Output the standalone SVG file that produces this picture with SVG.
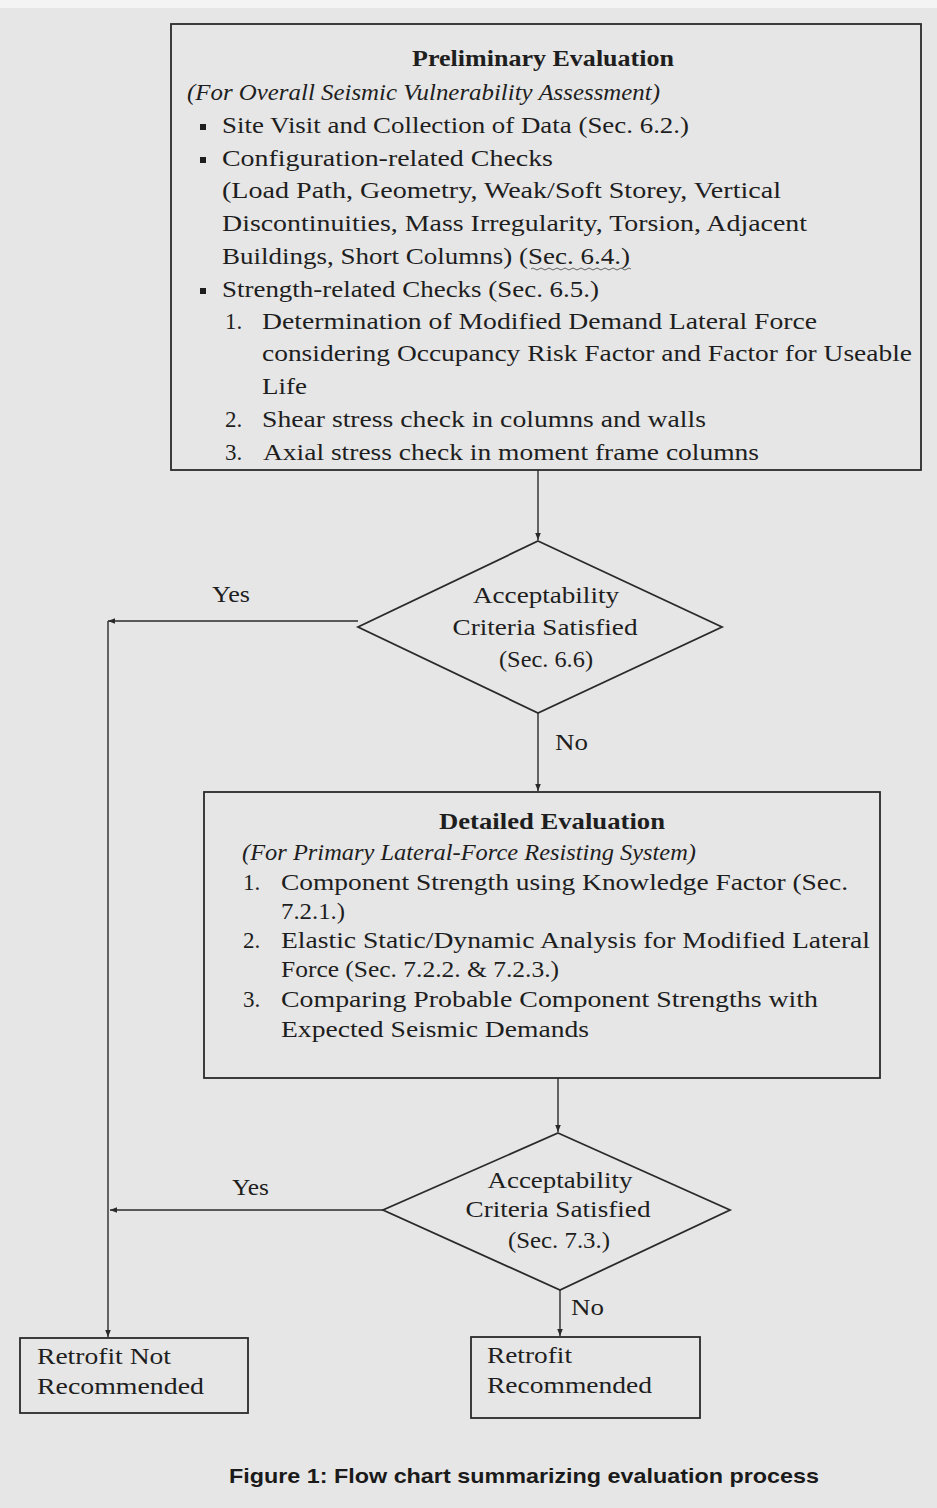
<svg xmlns="http://www.w3.org/2000/svg" width="937" height="1508" viewBox="0 0 937 1508">
<style>
.t{font-family:"Liberation Serif","Times New Roman",serif;font-size:23px;fill:#1e1e1e}
.b{font-weight:bold}
.i{font-style:italic}
.box{fill:none;stroke:#2a2a2a;stroke-width:1.8}
.con{fill:none;stroke:#2a2a2a;stroke-width:1.4}
.cap{font-family:"Liberation Sans",Arial,sans-serif;font-size:21px;font-weight:bold;fill:#1a1a1a}
</style>
<defs>
<marker id="ah" viewBox="0 0 10 10" refX="10" refY="5" markerWidth="7" markerHeight="7" markerUnits="userSpaceOnUse" orient="auto">
<path d="M0,1 L10,5 L0,9 z" fill="#2a2a2a"/>
</marker>
</defs>
<rect x="0" y="0" width="937" height="1508" fill="#e6e6e6"/>
<rect x="0" y="0" width="937" height="8" fill="#f4f4f4"/>

<g id="preliminary">
<rect class="box" x="171" y="24" width="750" height="446"/>
<text class="t b" x="543" y="66" text-anchor="middle" textLength="262" lengthAdjust="spacingAndGlyphs">Preliminary Evaluation</text>
<text class="t i" x="187" y="100" textLength="473" lengthAdjust="spacingAndGlyphs">(For Overall Seismic Vulnerability Assessment)</text>
<rect x="200" y="124" width="6" height="6" fill="#1e1e1e"/>
<text class="t" x="222" y="133" textLength="467" lengthAdjust="spacingAndGlyphs">Site Visit and Collection of Data (Sec. 6.2.)</text>
<rect x="200" y="157" width="6" height="6" fill="#1e1e1e"/>
<text class="t" x="222" y="166" textLength="331" lengthAdjust="spacingAndGlyphs">Configuration-related Checks</text>
<text class="t" x="222" y="198" textLength="559" lengthAdjust="spacingAndGlyphs">(Load Path, Geometry, Weak/Soft Storey, Vertical</text>
<text class="t" x="222" y="231" textLength="585" lengthAdjust="spacingAndGlyphs">Discontinuities, Mass Irregularity, Torsion, Adjacent</text>
<text class="t" x="222" y="264" textLength="408" lengthAdjust="spacingAndGlyphs">Buildings, Short Columns) (Sec. 6.4.)</text>
<path d="M531,269 q2,-2 4,0 t4,0 t4,0 t4,0 t4,0 t4,0 t4,0 t4,0 t4,0 t4,0 t4,0 t4,0 t4,0 t4,0 t4,0 t4,0 t4,0 t4,0 t4,0 t4,0 t4,0 t4,0 t4,0 t4,0 t4,0" fill="none" stroke="#555" stroke-width="0.9"/>
<rect x="200" y="288" width="6" height="6" fill="#1e1e1e"/>
<text class="t" x="222" y="297" textLength="377" lengthAdjust="spacingAndGlyphs">Strength-related Checks (Sec. 6.5.)</text>
<text class="t" x="225" y="329">1.</text>
<text class="t" x="262" y="329" textLength="555" lengthAdjust="spacingAndGlyphs">Determination of Modified Demand Lateral Force</text>
<text class="t" x="262" y="361" textLength="650" lengthAdjust="spacingAndGlyphs">considering Occupancy Risk Factor and Factor for Useable</text>
<text class="t" x="262" y="394" textLength="45" lengthAdjust="spacingAndGlyphs">Life</text>
<text class="t" x="225" y="427">2.</text>
<text class="t" x="262" y="427" textLength="444" lengthAdjust="spacingAndGlyphs">Shear stress check in columns and walls</text>
<text class="t" x="225" y="460">3.</text>
<text class="t" x="263" y="460" textLength="496" lengthAdjust="spacingAndGlyphs">Axial stress check in moment frame columns</text>
</g>

<g id="decision1">
<polygon class="box" points="538,541 722,627 538,713 358,627"/>
<text class="t" x="546" y="603" text-anchor="middle" textLength="146" lengthAdjust="spacingAndGlyphs">Acceptability</text>
<text class="t" x="545" y="635" text-anchor="middle" textLength="185" lengthAdjust="spacingAndGlyphs">Criteria Satisfied</text>
<text class="t" x="546" y="667" text-anchor="middle" textLength="94" lengthAdjust="spacingAndGlyphs">(Sec. 6.6)</text>
</g>

<g id="detailed">
<rect class="box" x="204" y="792" width="676" height="286"/>
<text class="t b" x="552" y="829" text-anchor="middle" textLength="226" lengthAdjust="spacingAndGlyphs">Detailed Evaluation</text>
<text class="t i" x="242" y="860" textLength="454" lengthAdjust="spacingAndGlyphs">(For Primary Lateral-Force Resisting System)</text>
<text class="t" x="243" y="890">1.</text>
<text class="t" x="281" y="890" textLength="567" lengthAdjust="spacingAndGlyphs">Component Strength using Knowledge Factor (Sec.</text>
<text class="t" x="281" y="919" textLength="64" lengthAdjust="spacingAndGlyphs">7.2.1.)</text>
<text class="t" x="243" y="948">2.</text>
<text class="t" x="281" y="948" textLength="589" lengthAdjust="spacingAndGlyphs">Elastic Static/Dynamic Analysis for Modified Lateral</text>
<text class="t" x="281" y="977" textLength="278" lengthAdjust="spacingAndGlyphs">Force (Sec. 7.2.2. &amp; 7.2.3.)</text>
<text class="t" x="243" y="1007">3.</text>
<text class="t" x="281" y="1007" textLength="537" lengthAdjust="spacingAndGlyphs">Comparing Probable Component Strengths with</text>
<text class="t" x="281" y="1037" textLength="308" lengthAdjust="spacingAndGlyphs">Expected Seismic Demands</text>
</g>

<g id="decision2">
<polygon class="box" points="558,1133 730,1210 560,1290 383,1210"/>
<text class="t" x="560" y="1188" text-anchor="middle" textLength="145" lengthAdjust="spacingAndGlyphs">Acceptability</text>
<text class="t" x="558" y="1217" text-anchor="middle" textLength="185" lengthAdjust="spacingAndGlyphs">Criteria Satisfied</text>
<text class="t" x="559" y="1248" text-anchor="middle" textLength="102" lengthAdjust="spacingAndGlyphs">(Sec. 7.3.)</text>
</g>

<g id="notrecommended">
<rect class="box" x="20" y="1338" width="228" height="75"/>
<text class="t" x="37" y="1364" textLength="134" lengthAdjust="spacingAndGlyphs">Retrofit Not</text>
<text class="t" x="37" y="1394" textLength="167" lengthAdjust="spacingAndGlyphs">Recommended</text>
</g>

<g id="recommended">
<rect class="box" x="471" y="1337" width="229" height="81"/>
<text class="t" x="487" y="1363" textLength="85" lengthAdjust="spacingAndGlyphs">Retrofit</text>
<text class="t" x="487" y="1393" textLength="165" lengthAdjust="spacingAndGlyphs">Recommended</text>
</g>

<g id="connectors">
<line class="con" x1="538" y1="470" x2="538" y2="540" marker-end="url(#ah)"/>
<line class="con" x1="358" y1="621" x2="108" y2="621" marker-end="url(#ah)"/>
<line class="con" x1="108" y1="621" x2="108" y2="1337" marker-end="url(#ah)"/>
<line class="con" x1="538" y1="713" x2="538" y2="791" marker-end="url(#ah)"/>
<line class="con" x1="558" y1="1078" x2="558" y2="1132" marker-end="url(#ah)"/>
<line class="con" x1="383" y1="1210" x2="110" y2="1210" marker-end="url(#ah)"/>
<line class="con" x1="560" y1="1290" x2="560" y2="1336" marker-end="url(#ah)"/>
<text class="t" x="212" y="602" textLength="38" lengthAdjust="spacingAndGlyphs">Yes</text>
<text class="t" x="555" y="750" textLength="33" lengthAdjust="spacingAndGlyphs">No</text>
<text class="t" x="232" y="1195" textLength="37" lengthAdjust="spacingAndGlyphs">Yes</text>
<text class="t" x="571" y="1315" textLength="33" lengthAdjust="spacingAndGlyphs">No</text>
</g>

<text class="cap" x="229" y="1483" textLength="590" lengthAdjust="spacingAndGlyphs">Figure 1: Flow chart summarizing evaluation process</text>
</svg>
